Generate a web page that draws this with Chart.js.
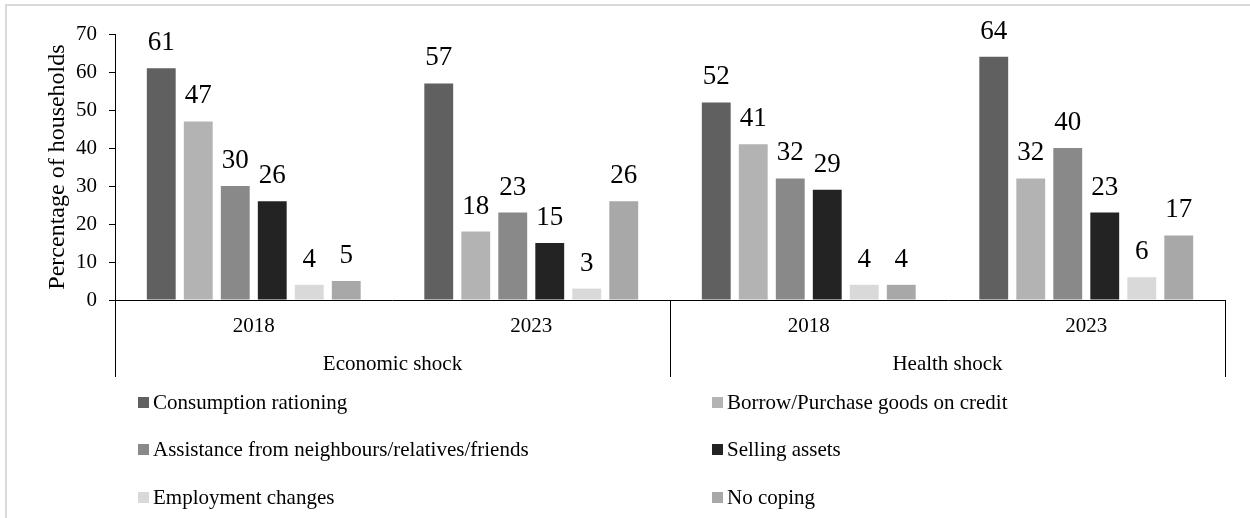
<!DOCTYPE html>
<html>
<head>
<meta charset="utf-8">
<title>Coping strategies by shock type</title>
<script src="https://cdn.jsdelivr.net/npm/chart.js@4/dist/chart.umd.min.js"></script>
<style>
  html, body { margin: 0; padding: 0; background: #fff; }
  #wrap { position: relative; width: 1250px; height: 518px; overflow: hidden; }
  #frame {
    position: absolute; left: 5px; top: 4px; width: 1400px; height: 700px;
    border-left: 2px solid #d9d9d9; border-top: 2px solid #d9d9d9;
  }
  #chart { position: absolute; left: 0; top: 0; }
  .legend-item {
    position: absolute; display: flex; align-items: center; white-space: nowrap;
    font-family: "Liberation Serif", "Times New Roman", serif; font-size: 21px;
    line-height: 24px; height: 24px; color: #000;
  }
  .legend-swatch { width: 11px; height: 11px; margin-right: 4px; flex: none; }
</style>
</head>
<body>
<div id="wrap">
  <div id="frame"></div>
  <canvas id="chart" width="1250" height="518"></canvas>
  <div id="legend"></div>
</div>
<script>
// Survey years shown under each shock type
const categories = ['2018', '2023', '2018', '2023'];
// Shock types, each spanning two year categories
const shockGroups = ['Economic shock', 'Health shock'];

// Share of households (%) using each coping strategy
const consumptionRationing = [61, 57, 52, 64];
const borrowOnCredit       = [47, 18, 41, 32];
const assistanceReceived   = [30, 23, 32, 40];
const sellingAssets        = [26, 15, 29, 23];
const employmentChanges    = [4, 3, 4, 6];
const noCoping             = [5, 26, 4, 17];

const seriesNames = [
  'Consumption rationing',
  'Borrow/Purchase goods on credit',
  'Assistance from neighbours/relatives/friends',
  'Selling assets',
  'Employment changes',
  'No coping'
];
const seriesValues = [consumptionRationing, borrowOnCredit, assistanceReceived,
                      sellingAssets, employmentChanges, noCoping];
const seriesColors = ['#606060', '#b3b3b3', '#898989', '#232323', '#d9d9d9', '#a8a8a8'];

// Y axis range and step
const yMin = 0, yMax = 70, yStep = 10;

const serif = '"Liberation Serif", "Times New Roman", serif';

// Value labels above each bar
const barValueLabels = {
  id: 'barValueLabels',
  afterDatasetsDraw(chart) {
    const ctx = chart.ctx;
    ctx.save();
    ctx.font = '27px ' + serif;
    ctx.fillStyle = '#000';
    ctx.textAlign = 'center';
    ctx.textBaseline = 'alphabetic';
    chart.data.datasets.forEach((ds, i) => {
      const meta = chart.getDatasetMeta(i);
      meta.data.forEach((bar, j) => {
        ctx.fillText(String(ds.data[j]), bar.x, bar.y - 18);
      });
    });
    ctx.restore();
  }
};

// Vertical rules separating the shock groups under the x axis
const groupDividers = {
  id: 'groupDividers',
  afterDraw(chart) {
    const g = chart.scales.x2;
    const top = chart.chartArea.bottom;
    const bottom = g.bottom;
    const mid = (g.getPixelForTick(0) + g.getPixelForTick(1)) / 2;
    const xs = [g.left, mid, g.right];
    const ctx = chart.ctx;
    ctx.save();
    ctx.strokeStyle = '#000';
    ctx.lineWidth = 1;
    ctx.beginPath();
    xs.forEach(x => {
      const px = Math.round(x) + 0.5;
      ctx.moveTo(px, top);
      ctx.lineTo(px, bottom);
    });
    ctx.stroke();
    ctx.restore();
  }
};

Chart.defaults.font.family = serif;
Chart.defaults.color = '#000';

const chart = new Chart(document.getElementById('chart'), {
  type: 'bar',
  data: {
    labels: categories,
    datasets: seriesNames.map((name, i) => ({
      label: name,
      data: seriesValues[i],
      backgroundColor: seriesColors[i],
      borderWidth: 0,
      categoryPercentage: 0.8,
      barPercentage: 0.78
    }))
  },
  options: {
    responsive: false,
    animation: false,
    devicePixelRatio: 1,
    layout: { padding: { left: 30, top: 34, right: 25, bottom: 141 } },
    plugins: {
      legend: { display: false },
      tooltip: { enabled: false }
    },
    scales: {
      x: {
        type: 'category',
        position: 'bottom',
        weight: 0,
        offset: true,
        grid: { display: false, drawTicks: false },
        border: { display: true, color: '#000', width: 1 },
        ticks: { font: { size: 21 }, color: '#000', padding: 14, autoSkip: false, maxRotation: 0 },
        afterFit(s) { s.height = 37; }
      },
      x2: {
        type: 'category',
        labels: shockGroups,
        position: 'bottom',
        weight: 1,
        offset: true,
        grid: { display: false, drawTicks: false },
        border: { display: false },
        ticks: { font: { size: 21 }, color: '#000', padding: 15, autoSkip: false, maxRotation: 0 },
        afterFit(s) { s.height = 40; }
      },
      y: {
        min: yMin,
        max: yMax,
        ticks: { stepSize: yStep, font: { size: 21 }, color: '#000', padding: 12 },
        grid: { drawOnChartArea: false, drawTicks: true, tickLength: 6, color: '#000' },
        border: { display: true, color: '#000', width: 1 },
        title: {
          display: true,
          text: 'Percentage of households',
          font: { size: 24 },
          color: '#000',
          padding: { top: 13, bottom: 0 }
        },
        afterFit(s) { s.width = 85; }
      }
    }
  },
  plugins: [barValueLabels, groupDividers]
});

// Two-column legend built from the chart's datasets
(function buildLegend() {
  const host = document.getElementById('legend');
  const colX = [138, 712];
  const rowTop = [390, 437, 485];
  const items = chart.options.plugins.legend.labels.generateLabels(chart);
  items.forEach((item, i) => {
    const el = document.createElement('div');
    el.className = 'legend-item';
    el.style.left = colX[i % 2] + 'px';
    el.style.top = rowTop[Math.floor(i / 2)] + 'px';
    const sw = document.createElement('span');
    sw.className = 'legend-swatch';
    sw.style.background = item.fillStyle;
    const tx = document.createElement('span');
    tx.textContent = item.text;
    el.appendChild(sw);
    el.appendChild(tx);
    host.appendChild(el);
  });
})();
</script>
</body>
</html>
